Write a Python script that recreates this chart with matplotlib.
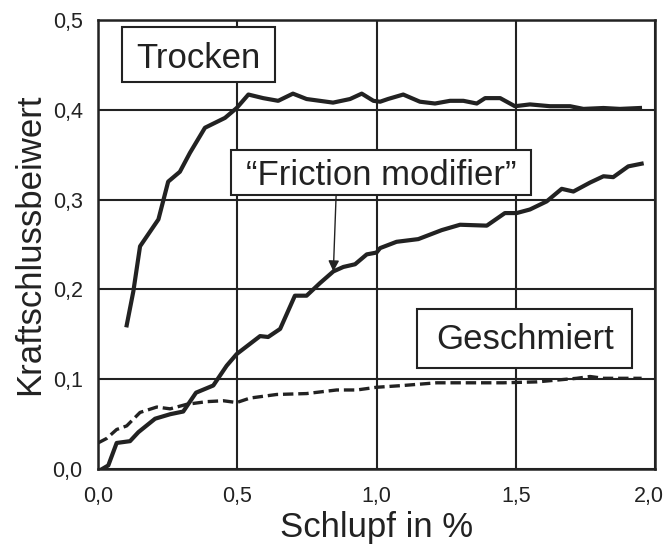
import matplotlib
matplotlib.use("Agg")
import matplotlib.pyplot as plt
import matplotlib.transforms as mtransforms
from matplotlib.patches import Rectangle

plt.rcParams['font.family'] = ['Liberation Sans', 'DejaVu Sans']

# ---- data ----
trocken_x = [0.103, 0.127, 0.151, 0.217, 0.252, 0.294, 0.330, 0.384, 0.456, 0.498, 0.54, 0.593,
             0.647, 0.70, 0.749, 0.844, 0.905, 0.947, 0.989, 1.013, 1.041, 1.096, 1.156, 1.21,
             1.264, 1.312, 1.36, 1.39, 1.444, 1.497, 1.551, 1.623, 1.695, 1.743, 1.815, 1.874, 1.946]
trocken_y = [0.16, 0.198, 0.248, 0.278, 0.32, 0.331, 0.352, 0.38, 0.391, 0.402, 0.417, 0.413,
             0.41, 0.418, 0.412, 0.408, 0.412, 0.418, 0.41, 0.409, 0.412, 0.417, 0.409, 0.407,
             0.41, 0.41, 0.407, 0.413, 0.413, 0.404, 0.406, 0.404, 0.404, 0.401, 0.402, 0.401, 0.402]

fm_x = [0.015, 0.037, 0.067, 0.115, 0.145, 0.205, 0.259, 0.306, 0.352, 0.414, 0.462, 0.498,
        0.582, 0.611, 0.654, 0.707, 0.749, 0.797, 0.845, 0.881, 0.923, 0.965, 1.0, 1.013,
        1.072, 1.15, 1.234, 1.3, 1.396, 1.461, 1.503, 1.551, 1.611, 1.665, 1.707, 1.767,
        1.815, 1.85, 1.904, 1.952]
fm_y = [0.0, 0.004, 0.029, 0.031, 0.041, 0.056, 0.061, 0.064, 0.085, 0.093, 0.115, 0.128,
        0.148, 0.147, 0.156, 0.193, 0.193, 0.207, 0.22, 0.225, 0.228, 0.239, 0.241, 0.246,
        0.253, 0.256, 0.266, 0.272, 0.271, 0.285, 0.285, 0.289, 0.298, 0.312, 0.309, 0.319,
        0.326, 0.325, 0.337, 0.34]

g_x = [0.0, 0.031, 0.067, 0.103, 0.151, 0.211, 0.259, 0.318, 0.39, 0.45, 0.498, 0.546, 0.642,
       0.749, 0.857, 0.929, 1.0, 1.096, 1.216, 1.336, 1.455, 1.575, 1.647, 1.719, 1.767, 1.815, 1.952]
g_y = [0.029, 0.034, 0.044, 0.048, 0.063, 0.069, 0.067, 0.072, 0.075, 0.076, 0.074, 0.079, 0.083,
       0.084, 0.088, 0.088, 0.091, 0.093, 0.096, 0.096, 0.096, 0.097, 0.099, 0.101, 0.103, 0.101, 0.101]

x_ticks = [0.0, 0.5, 1.0, 1.5, 2.0]
x_ticklabels = ['0,0', '0,5', '1,0', '1,5', '2,0']
y_ticks = [0.0, 0.1, 0.2, 0.3, 0.4, 0.5]
y_ticklabels = ['0,0', '0,1', '0,2', '0,3', '0,4', '0,5']

x_label = 'Schlupf in %'
y_label = 'Kraftschlussbeiwert'
label_trocken = 'Trocken'
label_fm = '\u201cFriction modifier\u201d'
label_g = 'Geschmiert'

# ---- figure ----
ink = '#222222'
fig = plt.figure(figsize=(6.66, 5.45), dpi=100)
ax = fig.add_axes([98/666, (545-469)/545, (655-98)/666, (469-20)/545])
ax.set_xlim(0, 2.0)
ax.set_ylim(0, 0.5)

ax.grid(True, color=ink, lw=1.5)
ax.set_axisbelow(True)
for s in ax.spines.values():
    s.set_color(ink)
    s.set_linewidth(1.8)

ax.set_xticks(x_ticks)
ax.set_xticklabels(x_ticklabels)
ax.set_yticks(y_ticks)
ax.set_yticklabels(y_ticklabels)
ax.tick_params(length=0, labelsize=15.5, colors=ink)
ax.tick_params(axis='y', pad=11)
ax.tick_params(axis='x', pad=12)

# nudge the last x tick label inward so it stays inside the figure
last = ax.get_xticklabels()[-1]
last.set_transform(last.get_transform() +
                   mtransforms.ScaledTranslation(-6/100, 0, fig.dpi_scale_trans))

ax.set_xlabel(x_label, fontsize=25, color=ink, labelpad=3)
ax.set_ylabel(y_label, fontsize=25, color=ink, labelpad=5)

lw_solid = 3.0
ax.plot(trocken_x, trocken_y, color=ink, lw=lw_solid, solid_joinstyle='round', zorder=3)
ax.plot(fm_x, fm_y, color=ink, lw=lw_solid, solid_joinstyle='round', zorder=3)
lw_d = 2.4
ax.plot(g_x, g_y, color=ink, lw=lw_d, dashes=(7.5/lw_d, 3.5/lw_d), zorder=3)

# label boxes
def box(x0, x1, y0, y1):
    ax.add_patch(Rectangle((x0, y0), x1-x0, y1-y0, facecolor='white', edgecolor=ink,
                           lw=1.5, zorder=4))

box(0.085, 0.636, 0.431, 0.4925)
ax.text(0.36, 0.447, label_trocken, fontsize=25, ha='center', va='baseline', color=ink, zorder=5)

box(0.476, 1.554, 0.305, 0.355)
ax.text(1.016, 0.316, label_fm, fontsize=25, ha='center', va='baseline', color=ink, zorder=5)

box(1.144, 1.916, 0.113, 0.178)
ax.text(1.533, 0.1336, label_g, fontsize=25, ha='center', va='baseline', color=ink, zorder=5)

ax.annotate('', xy=(0.845, 0.22), xytext=(0.855, 0.305),
            arrowprops=dict(arrowstyle='-|>', color=ink, lw=1.0, mutation_scale=16,
                            shrinkA=0, shrinkB=0), zorder=5)

fig.savefig('out.png', dpi=100)
